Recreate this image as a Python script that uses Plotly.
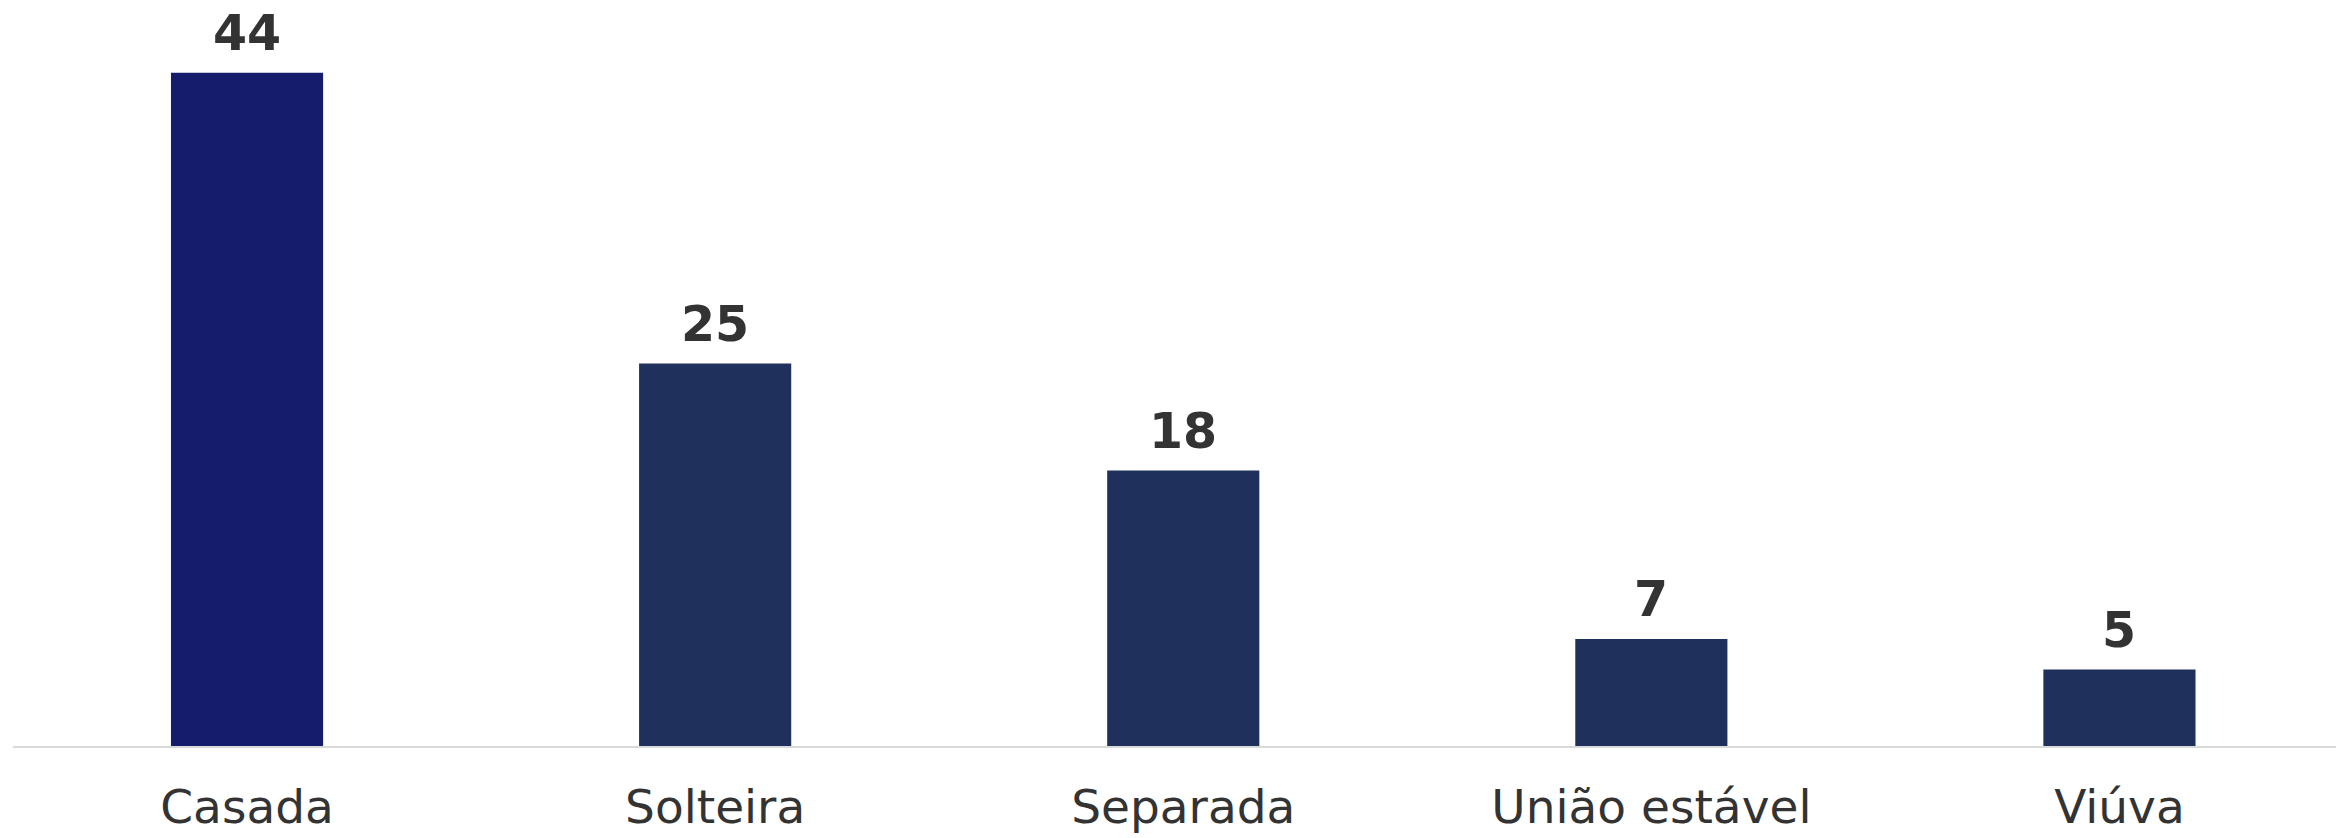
import plotly.graph_objects as go

categories = ["Casada", "Solteira", "Separada", "União estável", "Viúva"]
values = [44, 25, 18, 7, 5]
bar_colors = ["#141C6B", "#20305D", "#20305D", "#20305D", "#20305D"]

W, H = 2336, 838
left_m, bottom_m = 13, 92
plot_w = W - left_m
cat_step = 468.1
px_per_unit = 15.30
plot_h = H - bottom_m

fig = go.Figure()
fig.add_trace(go.Bar(
    x=categories,
    y=values,
    marker=dict(color=bar_colors, line=dict(width=0)),
    width=0.325,
    hoverinfo="x+y",
))

for c, v in zip(categories, values):
    fig.add_annotation(
        x=c, y=v, text=f"<b>{v}</b>", showarrow=False,
        yanchor="bottom", yshift=9,
        font=dict(family="DejaVu Sans", size=49, color="#333333"),
    )

fig.update_layout(
    width=W, height=H,
    margin=dict(l=left_m, r=0, t=0, b=bottom_m, pad=0),
    plot_bgcolor="white", paper_bgcolor="white",
    showlegend=False,
    xaxis=dict(
        range=[-0.5, -0.5 + plot_w / cat_step],
        automargin=False,
        showgrid=False, zeroline=False,
        showline=True, linecolor="#D9D9D9", linewidth=2,
        ticks="", ticklabelstandoff=19,
        tickfont=dict(family="DejaVu Sans", size=47, color="#333333"),
    ),
    yaxis=dict(
        range=[0, plot_h / px_per_unit],
        automargin=False,
        showgrid=False, zeroline=False, showticklabels=False, showline=False,
    ),
)

fig.write_html("out.html")
